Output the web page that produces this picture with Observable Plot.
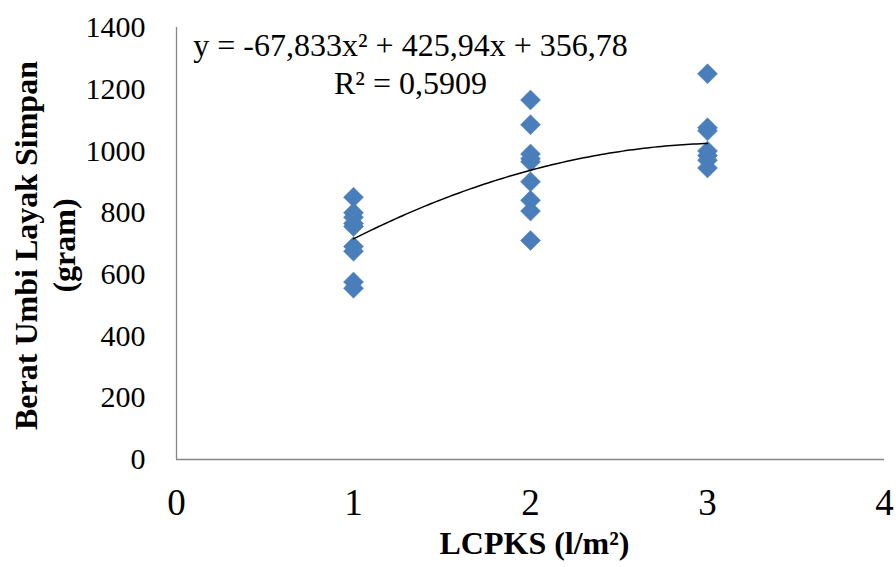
<!DOCTYPE html>
<html>
<head>
<meta charset="utf-8">
<script src="https://cdn.jsdelivr.net/npm/d3@7"></script>
<script src="https://cdn.jsdelivr.net/npm/@observablehq/plot@0.6"></script>
<style>
  html, body { margin: 0; padding: 0; background: #fff; }
  #chart svg { display: block; overflow: visible; }
</style>
</head>
<body>
<div id="chart"></div>
<script>
// Data
const dose1 = [850, 800, 785, 765, 755, 690, 675, 575, 555];
const dose2 = [1165, 1085, 990, 975, 965, 900, 840, 805, 710];
const dose3 = [1250, 1075, 1065, 1000, 985, 970, 945];
const doses = [1, 2, 3];
const groups = [dose1, dose2, dose3];

// Polynomial trendline coefficients as printed on the chart
const coefA = -67.833, coefB = 425.94, coefC = 356.78;
const equationLines = ["y = -67,833x² + 425,94x + 356,78", "R² = 0,5909"];

const xTicks = [0, 1, 2, 3, 4];
const yTicks = [0, 200, 400, 600, 800, 1000, 1200, 1400];
const xTitle = "LCPKS (l/m²)";
const yTitle = "Berat Umbi Layak Simpan\n(gram)";

const points = groups.flatMap((vals, i) => vals.map(v => ({x: doses[i], y: v})));
const trend = d3.range(1, 3.0001, 0.02).map(x => ({x, y: coefA * x * x + coefB * x + coefC}));

const chart = Plot.plot({
  width: 896,
  height: 567,
  marginLeft: 176,
  marginRight: 12,
  marginTop: 27,
  marginBottom: 108,
  style: {fontFamily: "'Liberation Serif', 'Times New Roman', serif", color: "#000", background: "#fff"},
  x: {domain: [0, 4], ticks: xTicks, label: null},
  y: {domain: [0, 1400], ticks: yTicks, label: null},
  marks: [
    Plot.axisY({ticks: yTicks, tickSize: 0, tickPadding: 31, fontSize: 30, label: null, tickFormat: d => String(d)}),
    Plot.axisX({ticks: xTicks, tickSize: 0, tickPadding: 29, fontSize: 37, label: null, tickFormat: d => String(d)}),
    Plot.ruleY([0], {stroke: "#868686", strokeWidth: 1.3}),
    Plot.ruleX([0], {stroke: "#868686", strokeWidth: 1.3}),
    Plot.dot(points, {x: "x", y: "y", symbol: "diamond2", r: 9, fill: "#4a7ebb", stroke: "#4a7ebb", strokeWidth: 0.5}),
    Plot.line(trend, {x: "x", y: "y", stroke: "#000", strokeWidth: 1.5}),
    Plot.text([equationLines[0]], {frameAnchor: "top", dx: -120, dy: 6, fontSize: 32, fill: "#000"}),
    Plot.text([equationLines[1]], {frameAnchor: "top", dx: -120, dy: 44, fontSize: 32, fill: "#000"}),
    Plot.text([xTitle], {frameAnchor: "bottom", dx: 4, dy: 94, fontSize: 32, fontWeight: "bold", fill: "#000"}),
    Plot.text([yTitle], {frameAnchor: "left", textAnchor: "middle", dx: -133, dy: 2, rotate: -90, fontSize: 32, fontWeight: "bold", lineHeight: 1.2, fill: "#000"})
  ]
});
document.getElementById("chart").appendChild(chart);
</script>
</body>
</html>
